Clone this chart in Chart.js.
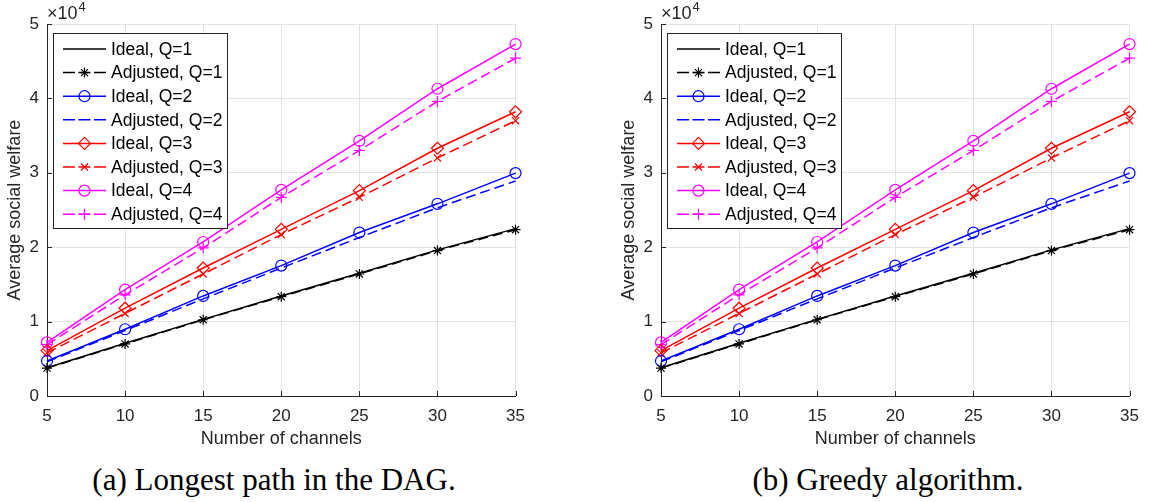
<!DOCTYPE html>
<html>
<head>
<meta charset="utf-8">
<script src="https://cdn.jsdelivr.net/npm/chart.js@4"></script>
<style>
body { margin: 0; background: #fff; width: 1149px; height: 502px; position: relative; overflow: hidden; }
.panel { position: absolute; top: 0; }
.cap { position: absolute; top: 462px; font-family: "Liberation Serif", serif; font-size: 31px; line-height: 36px; color: #000; white-space: nowrap; transform: translateX(-50%); }
</style>
</head>
<body>
<div class="panel" style="left:0"><canvas id="c1" width="535" height="460"></canvas></div>
<div class="panel" style="left:614px"><canvas id="c2" width="535" height="460"></canvas></div>
<div class="cap" style="left:274px">(a) Longest path in the DAG.</div>
<div class="cap" style="left:888px">(b) Greedy algorithm.</div>
<script>
// values (both panels look the same)
const channels = [5, 10, 15, 20, 25, 30, 35];
const idealQ1 = [3800, 7100, 10300, 13450, 16500, 19640, 22500];
const adjQ1   = [3750, 7000, 10250, 13350, 16400, 19550, 22350];
const idealQ2 = [4700, 8970, 13450, 17530, 21970, 25830, 29960];
const adjQ2   = [4600, 8800, 13050, 17200, 21300, 25300, 28900];
const idealQ3 = [6100, 11800, 17200, 22400, 27600, 33300, 38200];
const adjQ3   = [5800, 11100, 16400, 21700, 26700, 32000, 37000];
const idealQ4 = [7200, 14300, 20700, 27700, 34300, 41300, 47300];
const adjQ4   = [6900, 13600, 19900, 26700, 33000, 39600, 45400];
const yTicks = [0, 10000, 20000, 30000, 40000, 50000];

const txt = '#262626';
const sans = '"Liberation Sans", Arial, sans-serif';

function series(label, values, color, dashed, marker, r) {
    return {
        label: label,
        data: values.map((v, i) => ({ x: channels[i], y: v })),
        borderColor: color,
        borderWidth: 1.5,
        borderDash: dashed ? [10, 5] : [],
        pointStyle: marker || false,
        pointRadius: marker ? (r || 5) : 0,
        pointHoverRadius: marker ? (r || 5) : 0,
        pointBorderColor: color,
        pointBackgroundColor: 'rgba(0,0,0,0)',
        pointBorderWidth: 1.2,
        fill: false,
        tension: 0,
        clip: false
    };
}

// MATLAB-ish bits: inward ticks, x10^4 and the boxed legend
const matlabLook = {
    id: 'matlabLook',
    afterDraw(chart) {
        const ctx = chart.ctx, a = chart.chartArea;
        const xs = chart.scales.x, ys = chart.scales.y;
        ctx.save();
        ctx.strokeStyle = txt;
        ctx.lineWidth = 1;
        ctx.beginPath();
        channels.forEach(c => {
            const px = Math.round(xs.getPixelForValue(c)) + 0.5;
            ctx.moveTo(px, a.bottom); ctx.lineTo(px, a.bottom - 5);
        });
        yTicks.forEach(t => {
            const py = Math.round(ys.getPixelForValue(t)) + 0.5;
            ctx.moveTo(a.left, py); ctx.lineTo(a.left + 5, py);
        });
        ctx.stroke();

        // exponent
        ctx.fillStyle = txt;
        ctx.textBaseline = 'alphabetic';
        ctx.font = '18px ' + sans;
        ctx.fillText('\u00d710', a.left, a.top - 5);
        const w = ctx.measureText('\u00d710').width;
        ctx.font = '13px ' + sans;
        ctx.fillText('4', a.left + w + 1, a.top - 13);

        // legend
        const x0 = a.left + 6, y0 = a.top + 9, bw = 174, bh = 195;
        ctx.fillStyle = '#fff';
        ctx.fillRect(x0, y0, bw, bh);
        ctx.strokeStyle = txt;
        ctx.strokeRect(x0 + 0.5, y0 + 0.5, bw, bh);
        chart.data.datasets.forEach((ds, i) => {
            const y = y0 + 16 + i * 23.6;
            const lx = x0 + 10;
            ctx.strokeStyle = ds.borderColor;
            ctx.lineWidth = ds.borderWidth;
            ctx.setLineDash(ds.borderDash.length ? [12, 3.5] : []);
            ctx.beginPath();
            ctx.moveTo(lx, y); ctx.lineTo(lx + 43, y);
            ctx.stroke();
            ctx.setLineDash([]);
            if (ds.pointStyle) {
                ctx.fillStyle = 'rgba(0,0,0,0)';
                ctx.lineWidth = ds.pointBorderWidth;
                Chart.helpers.drawPoint(ctx, {
                    pointStyle: ds.pointStyle, radius: ds.pointRadius,
                    borderWidth: ds.pointBorderWidth, rotation: 0
                }, lx + 21.5, y);
            }
            ctx.fillStyle = '#000';
            ctx.font = '17.5px ' + sans;
            ctx.textBaseline = 'middle';
            ctx.fillText(ds.label, lx + 48, y + 1);
        });
        ctx.restore();
    }
};

function makeChart(id) {
    return new Chart(document.getElementById(id), {
        type: 'line',
        data: {
            datasets: [
                series('Ideal, Q=1', idealQ1, '#000000', false, null),
                series('Adjusted, Q=1', adjQ1, '#000000', true, 'star', 5),
                series('Ideal, Q=2', idealQ2, '#0000ff', false, 'circle', 5.5),
                series('Adjusted, Q=2', adjQ2, '#0000ff', true, null),
                series('Ideal, Q=3', idealQ3, '#ff0000', false, 'rectRot', 6),
                series('Adjusted, Q=3', adjQ3, '#ff0000', true, 'crossRot', 5),
                series('Ideal, Q=4', idealQ4, '#ff00ff', false, 'circle', 5.5),
                series('Adjusted, Q=4', adjQ4, '#ff00ff', true, 'cross', 5.5)
            ]
        },
        options: {
            responsive: false,
            animation: false,
            layout: { padding: { top: 24, right: 13, left: 0, bottom: 0 } },
            plugins: { legend: { display: false }, tooltip: { enabled: false } },
            scales: {
                x: {
                    type: 'linear',
                    min: 5, max: 35,
                    ticks: { stepSize: 5, padding: 10, color: txt, font: { family: sans, size: 17 } },
                    grid: { color: '#e3e3e3', drawTicks: false },
                    border: { color: txt, width: 1 },
                    title: { display: true, text: 'Number of channels', color: txt, font: { family: sans, size: 18 }, padding: { top: 0, bottom: 10 } },
                    afterFit: s => { s.height = 64; }
                },
                y: {
                    min: 0, max: 50000,
                    ticks: { stepSize: 10000, padding: 8, color: txt, font: { family: sans, size: 17 }, callback: v => v / 10000 },
                    grid: { color: '#e3e3e3', drawTicks: false },
                    border: { color: txt, width: 1 },
                    title: { display: true, text: 'Average social welfare', color: txt, font: { family: sans, size: 18 }, padding: { top: 4, bottom: 0 } },
                    afterFit: s => { s.width = 47; }
                }
            }
        },
        plugins: [matlabLook]
    });
}

makeChart('c1');
makeChart('c2');
</script>
</body>
</html>
